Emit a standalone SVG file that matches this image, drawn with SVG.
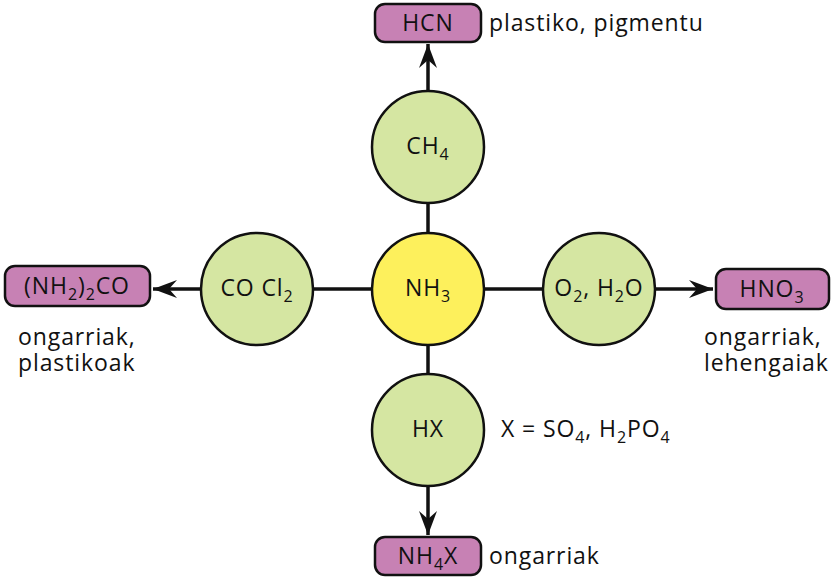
<svg xmlns="http://www.w3.org/2000/svg" width="834" height="583" viewBox="0 0 834 583">
<style>
text{font-family:"Open Sans","Liberation Sans",Arial,sans-serif;font-size:23px;letter-spacing:0.9px;fill:#111}
.c{text-anchor:middle}
.g{fill:#d5e6a2;stroke:#111;stroke-width:2.5}
.y{fill:#fdf05c;stroke:#111;stroke-width:2.5}
.b{fill:#c781b4;stroke:#111;stroke-width:2.5}
.l{stroke:#111;stroke-width:3.5;fill:none}
.s{font-size:16px}
</style>
<rect width="834" height="583" fill="#fff"/>
<g id="connectors">
<line class="l" x1="428" y1="120" x2="428" y2="460"/>
<line class="l" x1="230" y1="289" x2="630" y2="289"/>
<path d="M428,95 V44" class="l"/><path d="M428,60 L419,68 L428,44 L437,68 Z" fill="#111"/>
<path d="M428,485 V535" class="l"/><path d="M428,519 L419,511 L428,535 L437,511 Z" fill="#111"/>
<path d="M201,289 H153" class="l"/><path d="M169,289 L177,280 L153,289 L177,298 Z" fill="#111"/>
<path d="M655,289 H713" class="l"/><path d="M697,289 L689,280 L713,289 L689,298 Z" fill="#111"/>
</g>
<g id="ch4"><circle class="g" cx="428" cy="147" r="56"/><text class="c" x="428" y="154">CH<tspan class="s" dy="6">4</tspan></text></g>
<g id="nh3"><circle class="y" cx="428" cy="289" r="56"/><text class="c" x="428" y="296">NH<tspan class="s" dy="6">3</tspan></text></g>
<g id="hx"><circle class="g" cx="428" cy="430" r="56"/><text class="c" x="428" y="437">HX</text></g>
<g id="cocl2"><circle class="g" cx="257" cy="289" r="56"/><text class="c" x="257" y="296">CO Cl<tspan class="s" dy="6">2</tspan></text></g>
<g id="o2h2o"><circle class="g" cx="599" cy="289" r="56"/><text class="c" x="599" y="296">O<tspan class="s" dy="6">2</tspan><tspan dy="-6">, H</tspan><tspan class="s" dy="6">2</tspan><tspan dy="-6">O</tspan></text></g>
<g id="hcn"><rect class="b" x="375" y="4" width="106" height="38" rx="10"/><text class="c" x="428" y="31">HCN</text><text x="489" y="31">plastiko, pigmentu</text></g>
<g id="nh4x"><rect class="b" x="375" y="537" width="106" height="38" rx="10"/><text class="c" x="428" y="564">NH<tspan class="s" dy="6">4</tspan><tspan dy="-6">X</tspan></text><text x="489" y="564">ongarriak</text></g>
<g id="urea"><rect class="b" x="5" y="266" width="145" height="40" rx="10"/><text class="c" x="77" y="294">(NH<tspan class="s" dy="6">2</tspan><tspan dy="-6">)</tspan><tspan class="s" dy="6">2</tspan><tspan dy="-6">CO</tspan></text><text x="18" y="345">ongarriak,</text><text x="18" y="371">plastikoak</text></g>
<g id="hno3"><rect class="b" x="716" y="269" width="113" height="40" rx="10"/><text class="c" x="772" y="297">HNO<tspan class="s" dy="6">3</tspan></text><text x="704" y="345">ongarriak,</text><text x="704" y="371">lehengaiak</text></g>
<g id="hxlabel"><text x="501" y="437">X = SO<tspan class="s" dy="6">4</tspan><tspan dy="-6">, H</tspan><tspan class="s" dy="6">2</tspan><tspan dy="-6">PO</tspan><tspan class="s" dy="6">4</tspan></text></g>
</svg>
